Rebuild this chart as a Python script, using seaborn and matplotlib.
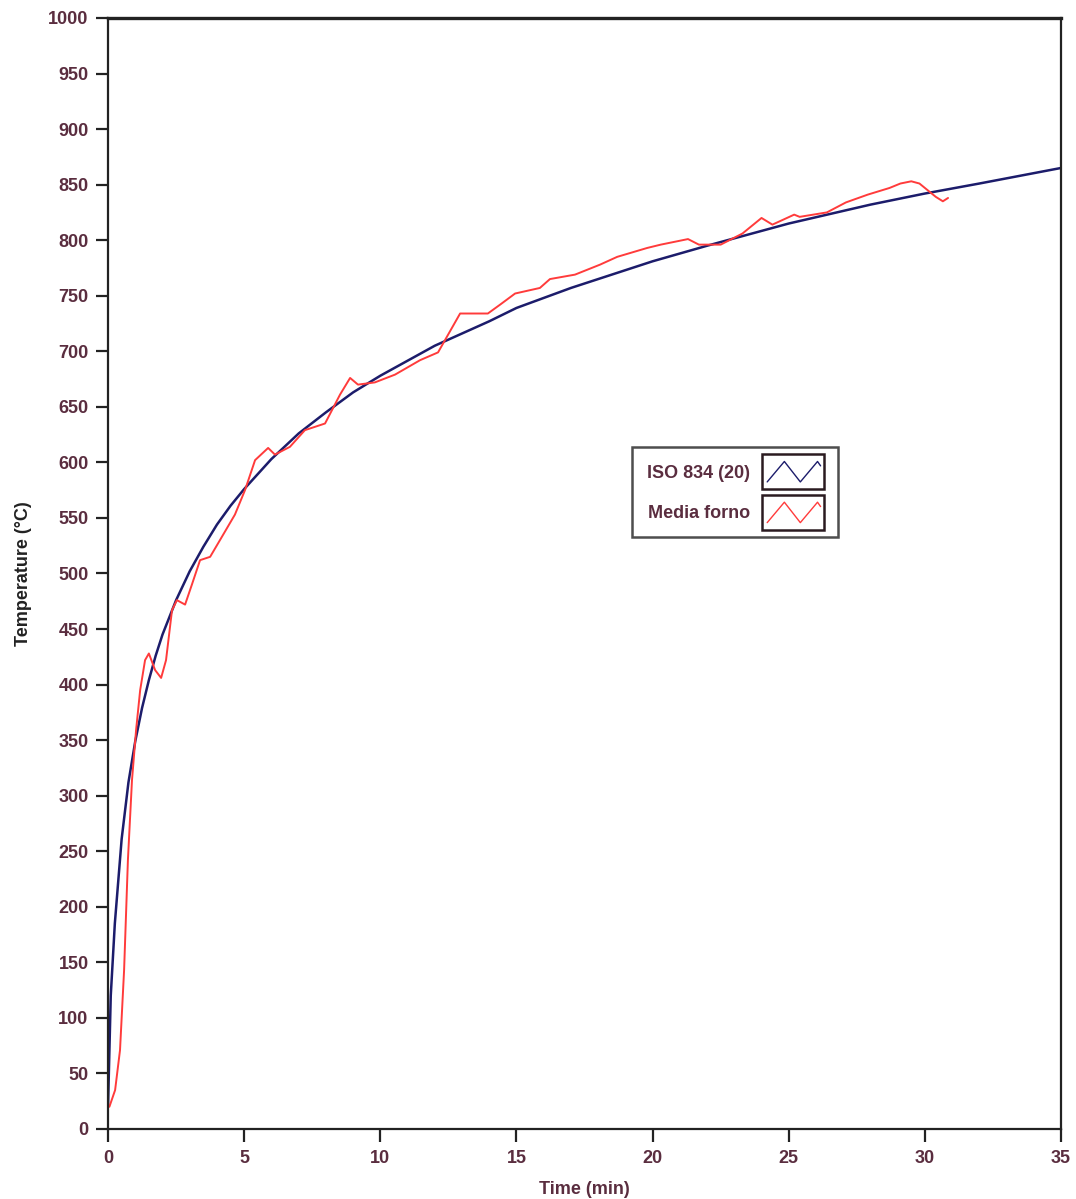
import numpy as np
import pandas as pd
import matplotlib
matplotlib.use("Agg")
import matplotlib.pyplot as plt
import seaborn as sns
from matplotlib.legend_handler import HandlerBase
from matplotlib.patches import Rectangle
from matplotlib.lines import Line2D

sns.set_theme(style="ticks")
plt.rcParams['font.family'] = ['Liberation Sans', 'DejaVu Sans']

# ISO 834 standard curve
iso_time = [0, 0.1, 0.25, 0.5, 0.75, 1, 1.25, 1.5, 1.75, 2, 2.5, 3, 3.5, 4, 4.5,
            5, 6, 7, 8, 9, 10, 12, 14, 15, 17, 20, 22, 25, 28, 30, 32, 35]
iso_temp = [20, 120, 185, 261, 312, 349, 379, 404, 426, 445, 476, 502, 524, 544,
            561, 576, 603, 626, 645, 663, 678, 705, 727, 739, 757, 781, 795, 815,
            832, 842, 851, 865]

oven_time = [0.05, 0.26, 0.44, 0.59, 0.73, 0.88, 1.03, 1.18, 1.36, 1.5, 1.73, 1.95,
             2.13, 2.35, 2.53, 2.83, 3.08, 3.38, 3.75, 4.11, 4.66, 5.03, 5.4, 5.88,
             6.13, 6.68, 7.23, 7.97, 8.52, 8.89, 9.18, 9.8, 10.54, 11.46, 12.12,
             12.49, 12.93, 13.95, 14.4, 14.95, 15.86, 16.23, 17.15, 18.07, 18.7,
             19.8, 20.3, 21.3, 21.7, 22.5, 23.3, 24.0, 24.4, 25.2, 25.4, 26.4,
             27.1, 27.9, 28.7, 29.1, 29.5, 29.8, 30.1, 30.4, 30.66, 30.85]
oven_temp = [20, 35, 71, 143, 242, 314, 359, 395, 422, 428, 413, 406,
             422, 467, 476, 472, 490, 512, 515, 530, 553, 575, 602, 613,
             607, 614, 629, 635, 661, 676, 670, 672, 679, 692, 699,
             715, 734, 734, 742, 752, 757, 765, 769, 778, 785,
             793, 796, 801, 796, 796, 806, 820, 814, 823, 821, 825,
             834, 841, 847, 851, 853, 851, 845, 839, 835, 838]

iso_df = pd.DataFrame({"Time": iso_time, "Temp": iso_temp})
oven_df = pd.DataFrame({"Time": oven_time, "Temp": oven_temp})

text_color = "#5a2d3f"
iso_color = "#1c1c6b"
oven_color = "#ff3b3b"


class BoxZigzag(HandlerBase):
    def create_artists(self, legend, orig_handle, xdescent, ydescent,
                       width, height, fontsize, trans):
        x0, y0 = -xdescent, -ydescent
        rect = Rectangle((x0, y0 - 5), width, height + 10, fill=False,
                         edgecolor="#2a1a20", lw=1.8, transform=trans)
        zx = np.array([0.08, 0.36, 0.62, 0.9, 0.95])
        zy = np.array([0.15, 0.85, 0.15, 0.85, 0.7])
        zig = Line2D(x0 + zx * width, y0 - 3 + zy * (height + 6),
                     color=orig_handle.get_color(), lw=1.0, transform=trans)
        return [rect, zig]


fig = plt.figure(figsize=(10.76, 11.99), dpi=100)
ax = fig.add_axes([0.1004, 0.0584, 0.8857, 0.9266])

sns.lineplot(data=iso_df, x="Time", y="Temp", ax=ax, color=iso_color, lw=1.8,
             label="ISO 834 (20)")
sns.lineplot(data=oven_df, x="Time", y="Temp", ax=ax, color=oven_color, lw=1.4,
             label="Media forno")

ax.set_xlim(0, 35)
ax.set_ylim(0, 1000)
ax.set_xticks(np.arange(0, 36, 5))
ax.set_yticks(np.arange(0, 1001, 50))
ax.tick_params(axis="both", direction="out", length=9, width=1.6,
               colors="#222222", labelcolor=text_color, labelsize=13)
ax.tick_params(axis="y", pad=5)
ax.tick_params(axis="x", pad=6)
for lab in ax.get_xticklabels() + ax.get_yticklabels():
    lab.set_fontweight("bold")
ax.set_xlabel("Time (min)", fontsize=13, color=text_color, labelpad=10,
              fontweight="bold")
ax.set_ylabel("Temperature (°C)", fontsize=13, color="#222222", labelpad=12,
              fontweight="bold")
for side in ["left", "bottom", "top", "right"]:
    ax.spines[side].set_visible(True)
    ax.spines[side].set_color("#222222")
    ax.spines[side].set_linewidth(1.6)
ax.spines["top"].set_linewidth(2.4)

handles, labels = ax.get_legend_handles_labels()
leg = ax.legend(handles, labels, loc="upper left", bbox_to_anchor=(0.55, 0.614),
                borderaxespad=0, markerfirst=False, handler_map={Line2D: BoxZigzag()},
                handlelength=3.4, handleheight=1.4, handletextpad=0.7,
                labelspacing=1.1, frameon=True, fancybox=False,
                borderpad=0.8, prop={"size": 13, "weight": "bold"})
leg.get_frame().set_edgecolor("#222222")
leg.get_frame().set_linewidth(1.8)
for t in leg.get_texts():
    t.set_color(text_color)

fig.savefig("out.png", dpi=100)
